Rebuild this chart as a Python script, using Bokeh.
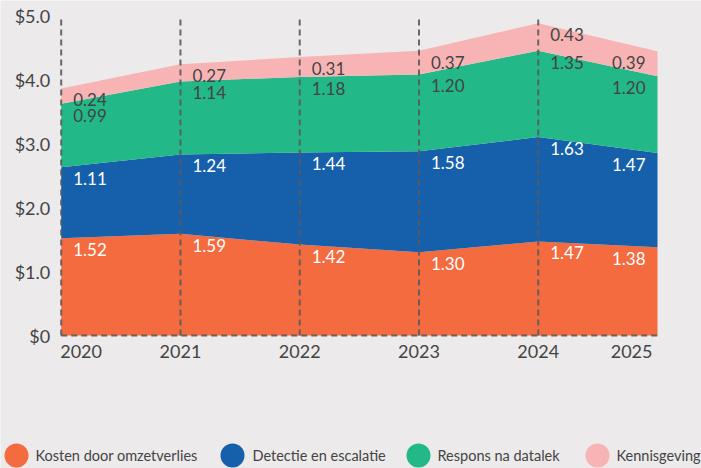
from bokeh.plotting import figure
from bokeh.models import ColumnDataSource, Range1d
from bokeh.core.properties import value
from bokeh.embed import file_html
from bokeh.resources import INLINE

years = [2020, 2021, 2022, 2023, 2024, 2025]
year_labels = ["2020", "2021", "2022", "2023", "2024", "2025"]
series_names = ["Kosten door omzetverlies", "Detectie en escalatie", "Respons na datalek", "Kennisgeving"]
omzetverlies = [1.52, 1.59, 1.42, 1.30, 1.47, 1.38]
detectie = [1.11, 1.24, 1.44, 1.58, 1.63, 1.47]
respons = [0.99, 1.14, 1.18, 1.20, 1.35, 1.20]
kennisgeving = [0.24, 0.27, 0.31, 0.37, 0.43, 0.39]
y_ticks = [0, 1, 2, 3, 4, 5]
y_tick_labels = ["$0", "$1.0", "$2.0", "$3.0", "$4.0", "$5.0"]

colors = ["#F46B3F", "#1660AB", "#22B887", "#F8B4B5"]
label_colors = ["#FFFFFF", "#FFFFFF", "#444444", "#444444"]
BG = "#ECEAEA"
FONT = "Lato"
TXT = "#444444"
GUIDE = "#5A5A5A"

# layout constants (canvas pixels)
W, H = 701, 468
PLOT_L, PLOT_R, PLOT_T, PLOT_B = 60.7, 657.0, 15.0, 335.0

series = [omzetverlies, detectie, respons, kennisgeving]
keys = ["s0", "s1", "s2", "s3"]
data = {"x": years}
for k, s in zip(keys, series):
    data[k] = s
src = ColumnDataSource(data)

# data ranges chosen so the plotting region sits at PLOT_L..PLOT_R / PLOT_T..PLOT_B
x_ppu = (PLOT_R - PLOT_L) / (years[-1] - years[0])
y_ppu = (PLOT_B - PLOT_T) / (y_ticks[-1] - y_ticks[0])
x_rng = Range1d(years[0] - PLOT_L / x_ppu, years[-1] + (W - PLOT_R) / x_ppu)
y_rng = Range1d(y_ticks[0] - (H - PLOT_B) / y_ppu, y_ticks[-1] + PLOT_T / y_ppu)

p = figure(width=W, height=H, output_backend="svg", toolbar_location=None,
           x_range=x_rng, y_range=y_rng, x_axis_location=None, y_axis_location=None,
           min_border_left=0, min_border_right=0, min_border_top=0, min_border_bottom=0)
p.background_fill_color = BG
p.border_fill_color = BG
p.outline_line_color = None
p.grid.visible = False
p.extra_x_ranges = {"px": Range1d(0, W)}
p.extra_y_ranges = {"px": Range1d(0, H)}

p.varea_stack(stackers=keys, x="x", color=colors, source=src)

# value labels
lx, ly, lt, lc, la, lo = [], [], [], [], [], []
for i, s in enumerate(series):
    for j, yr in enumerate(years):
        top = sum(series[k][j] for k in range(i + 1))
        lx.append(yr)
        ly.append(top)
        lt.append(f"{s[j]:.2f}")
        lc.append(label_colors[i])
        last = j == len(years) - 1
        la.append("right" if last else "left")
        lo.append(-12 if last else 12)
lsrc = ColumnDataSource(dict(x=lx, y=ly, text=lt, color=lc, align=la, xo=lo))
p.text(x="x", y="y", text="text", source=lsrc, text_color="color", text_align="align",
       x_offset="xo", y_offset=5, text_baseline="top", text_font=value(FONT),
       text_font_size="17px")

# dashed guide lines
gx = years[:-1]
p.segment(x0=gx, y0=[y_ticks[0]] * len(gx), x1=gx, y1=[y_ticks[-1]] * len(gx),
          line_color=GUIDE, line_alpha=0.9, line_width=2, line_dash="6 4")
p.segment(x0=[years[0]], y0=[0], x1=[years[-1]], y1=[0],
          line_color=GUIDE, line_alpha=0.9, line_width=2, line_dash="6 4")

# y tick labels
p.text(x=[years[0]] * len(y_ticks), y=y_ticks, text=y_tick_labels, x_offset=-11,
       text_align="right", text_baseline="middle", text_font=value(FONT),
       text_font_size="18px", text_color=TXT)

# year labels
yl_align = ["left"] + ["center"] * (len(years) - 2) + ["right"]
yl_off = [-1] + [0] * (len(years) - 2) + [-5]
ysrc = ColumnDataSource(dict(x=years, y=[0] * len(years), text=year_labels, align=yl_align, xo=yl_off))
p.text(x="x", y="y", text="text", source=ysrc, text_align="align", x_offset="xo", y_offset=9,
       text_baseline="top", text_font=value(FONT), text_font_size="18px", text_color=TXT)

# legend (pixel coordinates through extra ranges)
leg_cx = [16, 232, 418, 597]
leg_tx = [35, 252, 437, 616]
leg_y = H - 455
p.scatter(x=leg_cx, y=[leg_y] * 4, marker="circle", size=24, color=colors, line_color=None,
          x_range_name="px", y_range_name="px")
p.text(x=leg_tx, y=[leg_y] * 4, text=series_names, text_baseline="middle", text_align="left",
       text_font=value(FONT), text_font_size="14.5px", text_color=TXT,
       x_range_name="px", y_range_name="px")

open("out.html", "w").write(file_html(p, INLINE))
